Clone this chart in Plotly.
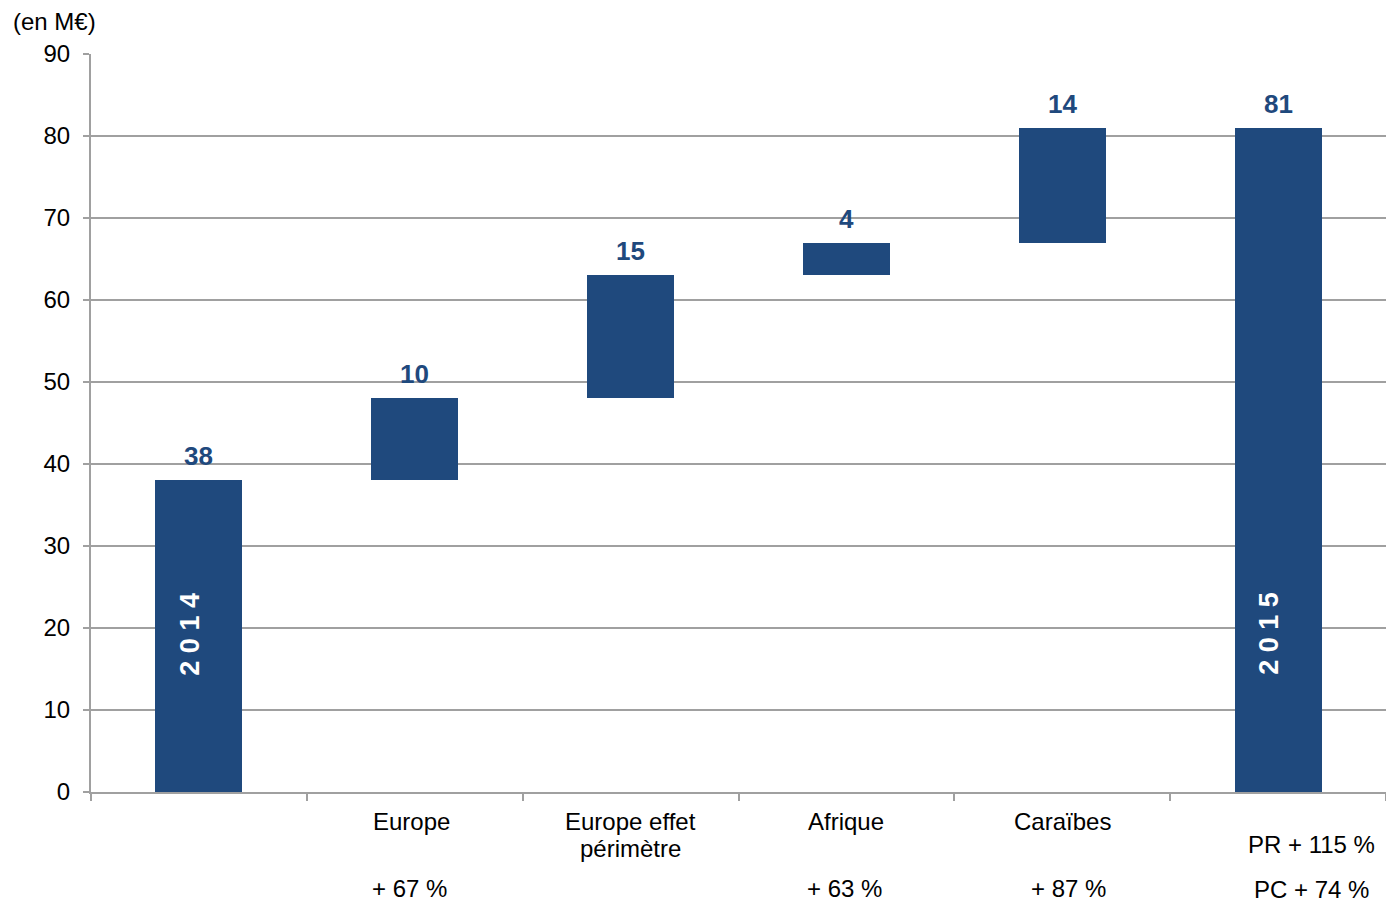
import plotly.graph_objects as go

# ---- data ----
categories = ["2014", "Europe", "Europe effet périmètre", "Afrique", "Caraïbes", "2015"]
deltas = [38, 10, 15, 4, 14, 81]
is_total = [True, False, False, False, False, True]
value_labels = ["38", "10", "15", "4", "14", "81"]
axis_labels = ["", "Europe", "Europe effet<br>périmètre", "Afrique", "Caraïbes", ""]
growth_labels = ["", "+ 67 %", "", "+ 63 %", "+ 87 %", ""]
total_labels = ["PR + 115 %", "PC + 74 %"]
bar_inside = ["2 0 1 4", "", "", "", "", "2 0 1 5"]
y_ticks = [0, 10, 20, 30, 40, 50, 60, 70, 80, 90]

# bases computed from the running total
bases = []
running = 0
for d, t in zip(deltas, is_total):
    if t:
        bases.append(0)
        running = d
    else:
        bases.append(running)
        running += d
tops = [b + d for b, d in zip(bases, deltas)]

BLUE = "#1F497D"
GRID = "#A0A0A0"
FONT = "Liberation Sans, Arial, sans-serif"
xs = list(range(len(categories)))

fig = go.Figure()
fig.add_trace(go.Bar(
    x=xs, y=deltas, base=bases, width=0.403,
    marker=dict(color=BLUE, line=dict(width=0)),
    hoverinfo="skip", showlegend=False,
))

ann = []
# value labels above bars
for x, top, lab in zip(xs, tops, value_labels):
    ann.append(dict(x=x, y=top, xref="x", yref="y", text=lab, showarrow=False,
                    yanchor="middle", yshift=24,
                    font=dict(family=FONT, size=26, color=BLUE, weight="bold")))
# rotated year labels inside the total bars
for x, lab in zip(xs, bar_inside):
    if lab:
        ann.append(dict(x=x, y=19.3, xref="x", yref="y", text=lab, showarrow=False,
                        textangle=-90, xshift=-9,
                        font=dict(family=FONT, size=27, color="white", weight="bold")))
# category labels below axis (one annotation per line for tighter line spacing)
cat_shift = [0, -3, 0, 0, 0, 0]
for x, lab, s in zip(xs, axis_labels, cat_shift):
    if lab:
        for j, line in enumerate(lab.split("<br>")):
            ann.append(dict(x=x, y=0, xref="x", yref="paper", text=line, showarrow=False,
                            yanchor="middle", yshift=-29 - 27 * j, xshift=s,
                            font=dict(family=FONT, size=24, color="black")))
g_shift = [0, -5, 0, -2, 6, 0]
for x, lab, s in zip(xs, growth_labels, g_shift):
    if lab:
        ann.append(dict(x=x, y=0, xref="x", yref="paper", text=lab, showarrow=False,
                        yanchor="middle", yshift=-96, xshift=s,
                        font=dict(family=FONT, size=24, color="black")))
for i, lab in enumerate(total_labels):
    ann.append(dict(x=xs[-1], y=0, xref="x", yref="paper", text=lab, showarrow=False,
                    yanchor="middle", yshift=-52 - 45 * i, xshift=33,
                    font=dict(family=FONT, size=24, color="black")))
# unit label
ann.append(dict(x=-0.0618, y=1, xref="paper", yref="paper", text="(en M€)",
                showarrow=False, xanchor="left", yanchor="middle", yshift=33,
                font=dict(family=FONT, size=24, color="black")))

fig.update_layout(
    width=1386, height=894,
    margin=dict(l=83, r=8, t=46, b=110),
    paper_bgcolor="white", plot_bgcolor="white",
    font=dict(family=FONT, size=24, color="black"),
    annotations=ann,
    xaxis=dict(range=[-0.5, len(categories) - 0.5],
               tickvals=[i - 0.5 for i in range(len(categories) + 1)],
               showticklabels=False, ticks="outside", ticklen=7, tickwidth=2,
               tickcolor=GRID, showline=True, linecolor=GRID, linewidth=2,
               showgrid=False, zeroline=False, fixedrange=True),
    yaxis=dict(range=[0, 90], tickvals=y_ticks, ticks="outside", ticklen=6,
               tickwidth=2, tickcolor=GRID, showline=True, linecolor=GRID,
               linewidth=2, showgrid=True, gridcolor=GRID, gridwidth=2,
               zeroline=False, ticklabelstandoff=8,
               tickfont=dict(family=FONT, size=24, color="black"),
               fixedrange=True),
    bargap=0,
)

fig.write_html("out.html")
